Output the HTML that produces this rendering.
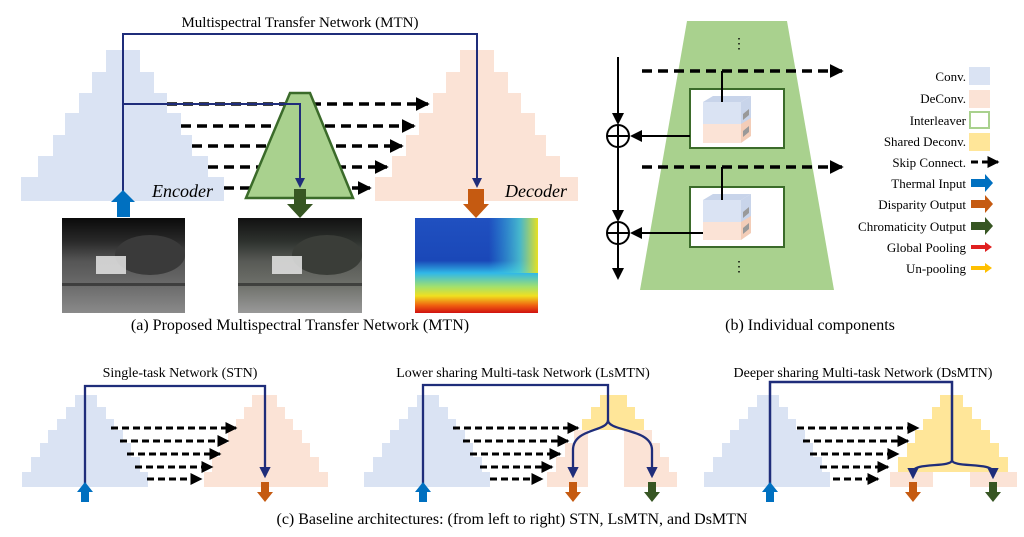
<!DOCTYPE html>
<html><head><meta charset="utf-8"><style>
html,body{margin:0;padding:0;background:#fff;}
svg{display:block;font-family:"Liberation Serif",serif;}
</style></head><body>
<svg width="1024" height="537" viewBox="0 0 1024 537" xmlns="http://www.w3.org/2000/svg">
<defs>
<marker id="ah" markerWidth="6" markerHeight="6" refX="5" refY="3" orient="auto" markerUnits="strokeWidth"><path d="M0,0 L6,3 L0,6 z" fill="#000"/></marker>
<marker id="ah2" markerWidth="4" markerHeight="4" refX="3.5" refY="2" orient="auto" markerUnits="strokeWidth"><path d="M0,0 L4,2 L0,4 z" fill="#000"/></marker>
<marker id="nh" markerWidth="5" markerHeight="5" refX="4" refY="2.5" orient="auto" markerUnits="strokeWidth"><path d="M0,0 L5,2.5 L0,5 z" fill="#1f2d7a"/></marker>
<linearGradient id="th" x1="0" y1="0" x2="0" y2="1"><stop offset="0" stop-color="#0a0a0a"/><stop offset="0.25" stop-color="#2a2a2a"/><stop offset="0.45" stop-color="#555"/><stop offset="0.7" stop-color="#6a6a6a"/><stop offset="1" stop-color="#8a8a8a"/></linearGradient>
<linearGradient id="th2" x1="0" y1="0" x2="0" y2="1"><stop offset="0" stop-color="#111"/><stop offset="0.25" stop-color="#2e322e"/><stop offset="0.45" stop-color="#575955"/><stop offset="0.7" stop-color="#6e706a"/><stop offset="1" stop-color="#999"/></linearGradient>
<linearGradient id="dp" x1="0" y1="0" x2="0" y2="1"><stop offset="0" stop-color="#2050c0"/><stop offset="0.45" stop-color="#1a48b8"/><stop offset="0.58" stop-color="#30b8e8"/><stop offset="0.72" stop-color="#a0e070"/><stop offset="0.82" stop-color="#f0e020"/><stop offset="0.92" stop-color="#f06010"/><stop offset="1" stop-color="#d01010"/></linearGradient>
<linearGradient id="dpr" x1="0" y1="0" x2="1" y2="0"><stop offset="0.6" stop-color="#30b8e8" stop-opacity="0"/><stop offset="0.85" stop-color="#50d0d0" stop-opacity="0.8"/><stop offset="1" stop-color="#e8e020"/></linearGradient>
</defs>

<!-- (a) -->
<text x="300" y="27" font-size="15" text-anchor="middle">Multispectral  Transfer Network (MTN)</text>
<polygon fill="#dae3f3" points="21,201 21,177 38,177 38,156 53,156 53,135 65,135 65,113 79,113 79,93 92,93 92,72 106,72 106,50 140,50 140,72 154,72 154,93 167,93 167,113 181,113 181,135 192,135 192,156 208,156 208,177 224,177 224,201"/>
<polygon fill="#fbe3d6" points="375,201 375,177 392,177 392,156 406,156 406,135 419,135 419,113 433,113 433,93 446,93 446,72 460,72 460,50 494,50 494,72 508,72 508,93 521,93 521,113 535,113 535,135 546,135 546,156 560,156 560,177 578,177 578,201"/>
<g stroke="#000" stroke-width="3.5" stroke-dasharray="10 6" fill="none">
<line x1="167" y1="104" x2="428" y2="104" marker-end="url(#ah2)"/>
<line x1="181" y1="126" x2="414" y2="126" marker-end="url(#ah2)"/>
<line x1="192" y1="146" x2="402" y2="146" marker-end="url(#ah2)"/>
<line x1="208" y1="167" x2="387" y2="167" marker-end="url(#ah2)"/>
<line x1="224" y1="188" x2="370" y2="188" marker-end="url(#ah2)"/>
</g>
<polygon points="290,93 310,93 353,198 246,198" fill="#a9d18e" stroke="#3b6b2a" stroke-width="2.5"/>
<rect x="150" y="178" width="70" height="22" fill="#dae3f3"/>
<text x="152" y="197" font-size="18" font-style="italic">Encoder</text>
<text x="505" y="197" font-size="18" font-style="italic">Decoder</text>
<g stroke="#1f2d7a" stroke-width="2" fill="none">
<polyline points="123,192 123,34 477,34 477,186" marker-end="url(#nh)"/>
<polyline points="123,104 300,104 300,186" marker-end="url(#nh)"/>
</g>
<polygon fill="#0070c0" points="123,190 135,202 130,202 130,217 117,217 117,202 111,202"/>
<polygon fill="#375623" points="294,189 306,189 306,204 313,204 300,218 287,204 294,204"/>
<polygon fill="#c55a11" points="468,189 484,189 484,204 489,204 476,218 463,204 468,204"/>
<rect x="62" y="218" width="123" height="95" fill="url(#th)"/>
<ellipse cx="150" cy="255" rx="35" ry="20" fill="#3a3a3a"/>
<rect x="96" y="256" width="30" height="18" fill="#ddd" opacity="0.9"/>
<rect x="62" y="283" width="123" height="3" fill="#222" opacity="0.6"/>
<rect x="238" y="218" width="124" height="95" fill="url(#th2)"/>
<ellipse cx="327" cy="255" rx="35" ry="20" fill="#3a3d38"/>
<rect x="272" y="256" width="30" height="18" fill="#ddd" opacity="0.9"/>
<rect x="238" y="283" width="124" height="3" fill="#222" opacity="0.6"/>
<rect x="415" y="218" width="123" height="95" fill="url(#dp)"/>
<rect x="415" y="218" width="123" height="55" fill="url(#dpr)"/>
<text x="300" y="330" font-size="16" text-anchor="middle">(a) Proposed Multispectral Transfer Network (MTN)</text>

<!-- (b) -->
<polygon points="687,21 787,21 834,290 640,290" fill="#a9d18e"/>
<text x="739" y="48" font-size="14" text-anchor="middle">⋮</text>
<text x="739" y="271" font-size="14" text-anchor="middle">⋮</text>
<g stroke="#000" stroke-width="3.5" stroke-dasharray="10 6" fill="none">
<line x1="642" y1="71" x2="842" y2="71" marker-end="url(#ah2)"/>
<line x1="642" y1="167" x2="842" y2="167" marker-end="url(#ah2)"/>
</g>
<rect x="690" y="89" width="94" height="59" fill="#fff" stroke="#3b6b2a" stroke-width="2"/>
<rect x="690" y="187" width="94" height="60" fill="#fff" stroke="#3b6b2a" stroke-width="2"/>
<g>
<polygon points="703,120 741,120 741,143 703,143" fill="#fbe3d6"/><polygon points="741,120 751,113 751,136 741,143" fill="#f3cdb8"/><polygon points="743,131 749,126 749,132 743,137" fill="#999"/>
<polygon points="703,102 741,102 741,124 703,124" fill="#dae3f3"/><polygon points="703,102 713,96 751,96 741,102" fill="#c8d4ea"/><polygon points="741,102 751,96 751,118 741,124" fill="#c8d4ea"/><polygon points="743,114 749,109 749,115 743,120" fill="#999"/>
</g>
<g>
<polygon points="703,217 741,217 741,240 703,240" fill="#fbe3d6"/><polygon points="741,217 751,210 751,233 741,240" fill="#f3cdb8"/><polygon points="743,228 749,223 749,229 743,234" fill="#999"/>
<polygon points="703,200 741,200 741,222 703,222" fill="#dae3f3"/><polygon points="703,200 713,194 751,194 741,200" fill="#c8d4ea"/><polygon points="741,200 751,194 751,216 741,222" fill="#c8d4ea"/><polygon points="743,212 749,207 749,213 743,218" fill="#999"/>
</g>
<g stroke="#000" stroke-width="2" fill="none">
<line x1="722" y1="71" x2="722" y2="102"/>
<line x1="722" y1="167" x2="722" y2="200"/>
<line x1="618" y1="57" x2="618" y2="123" marker-end="url(#ah)"/>
<line x1="618" y1="147" x2="618" y2="220" marker-end="url(#ah)"/>
<line x1="618" y1="244" x2="618" y2="278" marker-end="url(#ah)"/>
<line x1="690" y1="136" x2="632" y2="136" marker-end="url(#ah)"/>
<line x1="703" y1="233" x2="632" y2="233" marker-end="url(#ah)"/>
<circle cx="618" cy="136" r="11" fill="#fff"/><line x1="607" y1="136" x2="629" y2="136"/><line x1="618" y1="125" x2="618" y2="147"/>
<circle cx="618" cy="233" r="11" fill="#fff"/><line x1="607" y1="233" x2="629" y2="233"/><line x1="618" y1="222" x2="618" y2="244"/>
</g>
<g font-size="13" text-anchor="end">
<text x="966" y="81">Conv.</text>
<text x="966" y="103">DeConv.</text>
<text x="966" y="125">Interleaver</text>
<text x="966" y="146">Shared Deconv.</text>
<text x="966" y="167">Skip Connect.</text>
<text x="966" y="188">Thermal Input</text>
<text x="966" y="209">Disparity Output</text>
<text x="966" y="231">Chromaticity Output</text>
<text x="966" y="252">Global Pooling</text>
<text x="966" y="273">Un-pooling</text>
</g>
<rect x="969" y="67" width="21" height="18" fill="#dae3f3"/>
<rect x="969" y="90" width="21" height="18" fill="#fbe3d6"/>
<rect x="970" y="112" width="19" height="16" fill="#fff" stroke="#a9d18e" stroke-width="2"/>
<rect x="969" y="133" width="21" height="18" fill="#ffe699"/>
<line x1="971" y1="162" x2="998" y2="162" stroke="#000" stroke-width="3" stroke-dasharray="7 4" marker-end="url(#ah2)"/>
<polygon fill="#0070c0" points="971,179 985,179 985,174 993,183 985,192 985,187 971,187"/>
<polygon fill="#c55a11" points="971,200 985,200 985,195 993,204 985,213 985,208 971,208"/>
<polygon fill="#375623" points="971,222 985,222 985,217 993,226 985,235 985,230 971,230"/>
<polygon fill="#e02020" points="971,245 985,245 985,242 992,247 985,252 985,249 971,249"/>
<polygon fill="#ffc000" points="971,266 985,266 985,263 992,268 985,273 985,270 971,270"/>
<text x="810" y="330" font-size="16" text-anchor="middle">(b) Individual components</text>

<!-- (c) -->
<g font-size="14" text-anchor="middle">
<text x="180" y="377">Single-task Network (STN)</text>
<text x="523" y="377">Lower sharing Multi-task Network (LsMTN)</text>
<text x="863" y="377">Deeper sharing Multi-task Network (DsMTN)</text>
</g>
<polygon fill="#dae3f3" points="22,487 22,472 31,472 31,457 40,457 40,443 48,443 48,430 57,430 57,419 66,419 66,407 75,407 75,395 97,395 97,407 106,407 106,419 114,419 114,430 123,430 123,443 131,443 131,457 140,457 140,472 148,472 148,487"/>
<g transform="translate(342,0)"><polygon fill="#dae3f3" points="22,487 22,472 31,472 31,457 40,457 40,443 48,443 48,430 57,430 57,419 66,419 66,407 75,407 75,395 97,395 97,407 106,407 106,419 114,419 114,430 123,430 123,443 131,443 131,457 140,457 140,472 148,472 148,487"/></g>
<g transform="translate(682,0)"><polygon fill="#dae3f3" points="22,487 22,472 31,472 31,457 40,457 40,443 48,443 48,430 57,430 57,419 66,419 66,407 75,407 75,395 97,395 97,407 106,407 106,419 114,419 114,430 123,430 123,443 131,443 131,457 140,457 140,472 148,472 148,487"/></g>
<polygon fill="#fbe3d6" points="204,487 204,472 212,472 212,457 220,457 220,443 228,443 228,430 236,430 236,419 244,419 244,407 252,407 252,395 277,395 277,407 285,407 285,419 293,419 293,430 302,430 302,443 310,443 310,457 319,457 319,472 328,472 328,487"/>
<polygon fill="#ffe699" points="582,430 582,419 591,419 591,407 600,407 600,395 627,395 627,407 635,407 635,419 644,419 644,430"/>
<polygon fill="#fbe3d6" points="547,487 547,472 556,472 556,457 565,457 565,443 574,443 574,430 588,430 588,487"/>
<polygon fill="#fbe3d6" points="624,430 652,430 652,443 660,443 660,457 669,457 669,472 677,472 677,487 624,487"/>
<polygon fill="#ffe699" points="898,472 898,457 907,457 907,443 915,443 915,430 923,430 923,419 932,419 932,407 940,407 940,395 963,395 963,407 972,407 972,419 981,419 981,430 990,430 990,443 999,443 999,457 1008,457 1008,472"/>
<rect x="890" y="472" width="43" height="15" fill="#fbe3d6"/>
<rect x="970" y="472" width="47" height="15" fill="#fbe3d6"/>
<g stroke="#000" stroke-width="3" stroke-dasharray="7 4" fill="none">
<line x1="111" y1="428" x2="236" y2="428" marker-end="url(#ah2)"/>
<line x1="120" y1="441" x2="228" y2="441" marker-end="url(#ah2)"/>
<line x1="127" y1="454" x2="220" y2="454" marker-end="url(#ah2)"/>
<line x1="135" y1="467" x2="212" y2="467" marker-end="url(#ah2)"/>
<line x1="147" y1="479" x2="201" y2="479" marker-end="url(#ah2)"/>
<line x1="453" y1="428" x2="578" y2="428" marker-end="url(#ah2)"/>
<line x1="463" y1="441" x2="568" y2="441" marker-end="url(#ah2)"/>
<line x1="470" y1="454" x2="560" y2="454" marker-end="url(#ah2)"/>
<line x1="480" y1="467" x2="552" y2="467" marker-end="url(#ah2)"/>
<line x1="490" y1="479" x2="542" y2="479" marker-end="url(#ah2)"/>
<line x1="797" y1="428" x2="918" y2="428" marker-end="url(#ah2)"/>
<line x1="803" y1="441" x2="908" y2="441" marker-end="url(#ah2)"/>
<line x1="810" y1="454" x2="898" y2="454" marker-end="url(#ah2)"/>
<line x1="820" y1="467" x2="888" y2="467" marker-end="url(#ah2)"/>
<line x1="833" y1="479" x2="878" y2="479" marker-end="url(#ah2)"/>
</g>
<g stroke="#1f2d7a" stroke-width="2.3" fill="none">
<polyline points="85,484 85,386 265,386 265,476" marker-end="url(#nh)"/>
<polyline points="423,484 423,385 608,385 608,420"/>
<path d="M608,420 C608,432 573,428 573,450 L573,476" marker-end="url(#nh)"/>
<path d="M608,420 C608,432 652,428 652,450 L652,476" marker-end="url(#nh)"/>
<polyline points="770,484 770,382 952,382 952,460" stroke-width="2.5"/>
<path d="M952,460 C952,468 913,462 913,472 L913,477" marker-end="url(#nh)"/>
<path d="M952,460 C952,468 993,462 993,472 L993,477" marker-end="url(#nh)"/>
</g>
<g fill="#0070c0">
<polygon points="85,482 93,492 89,492 89,502 81,502 81,492 77,492"/>
<polygon points="423,482 431,492 427,492 427,502 419,502 419,492 415,492"/>
<polygon points="770,482 778,492 774,492 774,502 766,502 766,492 762,492"/>
</g>
<g fill="#c55a11">
<polygon points="261,482 269,482 269,492 273,492 265,502 257,492 261,492"/>
<polygon points="569,482 577,482 577,492 581,492 573,502 565,492 569,492"/>
<polygon points="909,482 917,482 917,492 921,492 913,502 905,492 909,492"/>
</g>
<g fill="#375623">
<polygon points="648,482 656,482 656,492 660,492 652,502 644,492 648,492"/>
<polygon points="989,482 997,482 997,492 1001,492 993,502 985,492 989,492"/>
</g>
<text x="512" y="524" font-size="16" text-anchor="middle">(c) Baseline architectures: (from left to right) STN, LsMTN, and DsMTN</text>
</svg>
</body></html>
